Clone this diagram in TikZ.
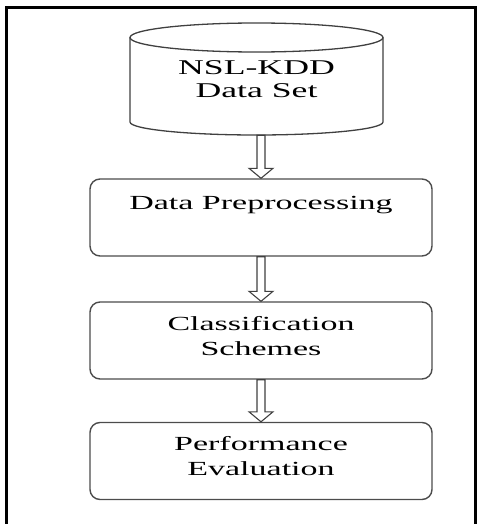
\documentclass[tikz,border=0pt]{standalone}
\usepackage{fontspec}
\setmainfont{Liberation Serif}[FakeStretch=1.7, Ligatures=NoCommon]
\usetikzlibrary{calc}

\tikzset{
  stepbox/.style={draw=black!70, line width=1.4pt, rounded corners=10pt,
    minimum width=342pt, minimum height=77pt, inner sep=0pt},
  caption/.style={font=\fontsize{20}{25}\selectfont, align=center, inner sep=0pt, anchor=base},
  hollow/.style={draw=black!75, line width=1.1pt, fill=white, line join=miter},
  dbline/.style={draw=black!75, line width=1.3pt}
}

% hollow block arrow from the bottom of #1 to the top of #2
\newcommand\hollowarrow[2]{%
  \draw[hollow] let \p1=(#1.south), \p2=(#2.north) in
    (\x2-4pt,\y1) -- (\x2+4pt,\y1) -- (\x2+4pt,\y2+10pt) -- (\x2+12pt,\y2+10pt)
    -- (\x2,\y2) -- (\x2-12pt,\y2+10pt) -- (\x2-4pt,\y2+10pt) -- cycle;}

\begin{document}
\begin{tikzpicture}[x=1pt,y=1pt]
  \useasboundingbox (0,0) rectangle (477,-524);
  \clip (0,0) rectangle (477,-524);

  % outer frame
  \draw[line width=3pt] (6,-8) rectangle (475,-560);

  % data set cylinder
  \node[minimum width=253pt, minimum height=112pt, inner sep=0pt] (db) at (256.5,-79) {};
  \draw[dbline, fill=white] (130,-37.5) -- (130,-122)
     arc[start angle=180, end angle=360, x radius=126.5, y radius=13]
     -- (383,-37.5);
  \draw[dbline] (256.5,-37.5) ellipse[x radius=126.5, y radius=14.5];
  \node[caption, font=\fontsize{21}{23}\selectfont] (tdb) at (256.5,-98) {NSL-KDD\\Data Set};

  % processing steps
  \node[stepbox] (pre) at (261,-217.5) {};
  \node[caption] (tpre) at (261,-209) {Data Preprocessing};

  \node[stepbox] (cls) at (261,-340.5) {};
  \node[caption] (tcls) at (261,-355) {Classification\\Schemes};

  \node[stepbox] (eva) at (261,-461) {};
  \node[caption] (teva) at (261,-475) {Performance\\Evaluation};

  % flow arrows
  \hollowarrow{db}{pre}
  \hollowarrow{pre}{cls}
  \hollowarrow{cls}{eva}
\end{tikzpicture}
\end{document}
